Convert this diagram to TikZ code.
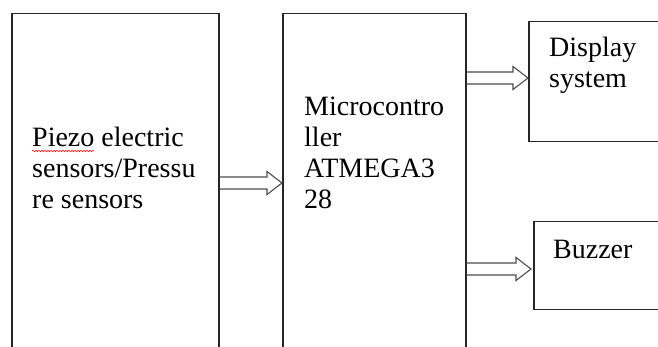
\documentclass[tikz,border=0pt]{standalone}
\usepackage{fontspec}
\setmainfont{Liberation Serif}
\usetikzlibrary{calc,decorations.pathmorphing}

\tikzset{
  block/.style={draw=black!85, line width=1.5pt, rectangle, anchor=north west, inner sep=0pt},
  blocktext/.style={anchor=base west, inner sep=0pt, align=left, font=\fontsize{28}{31}\selectfont},
  hollow/.style={draw=black!70, line width=1.1pt, line join=miter, to path={
      ($(\tikztostart)+(0,6)$) -- ($(\tikztotarget)+(-15,6)$) -- ($(\tikztotarget)+(-15,11.5)$)
      -- (\tikztotarget) -- ($(\tikztotarget)+(-15,-11.5)$) -- ($(\tikztotarget)+(-15,-6)$)
      -- ($(\tikztostart)+(0,-6)$)}}
}

\begin{document}
\begin{tikzpicture}[x=1pt, y=1pt]
    \useasboundingbox (0,0) rectangle (658,347);
    % blocks
    \node[block, minimum width=207pt, minimum height=360pt] (sensors) at (11,334) {};
    \node[block, minimum width=183pt, minimum height=360pt] (micro) at (282,334) {};
    \node[block, minimum width=160pt, minimum height=120pt] (display) at (528,326) {};
    \node[block, minimum width=160pt, minimum height=88pt] (buzzer) at (533,126) {};
    % texts (base = last line)
    \node[blocktext] (sensorstext) at (32,138) {Piezo electric\\sensors/Pressu\\re sensors};
    \node[blocktext] (microtext) at (304,138) {Microcontro\\ller\\ATMEGA3\\28};
    \node[blocktext] (displaytext) at (549,259) {Display\\system};
    \node[blocktext] (buzzertext) at (553,88) {Buzzer};
    \draw[red, line width=0.5pt, decorate, decoration={snake, amplitude=0.8pt, segment length=3pt}]
        (32,196) -- (94,196);
    % arrows
    \draw[hollow] (sensors.east |- 0,164) to (micro.west |- 0,164);
    \draw[hollow] (micro.east |- 0,269) to (display.west |- 0,269);
    \draw[hollow] (micro.east |- 0,78) to ([xshift=-2pt]buzzer.west |- 0,78);
\end{tikzpicture}
\end{document}
